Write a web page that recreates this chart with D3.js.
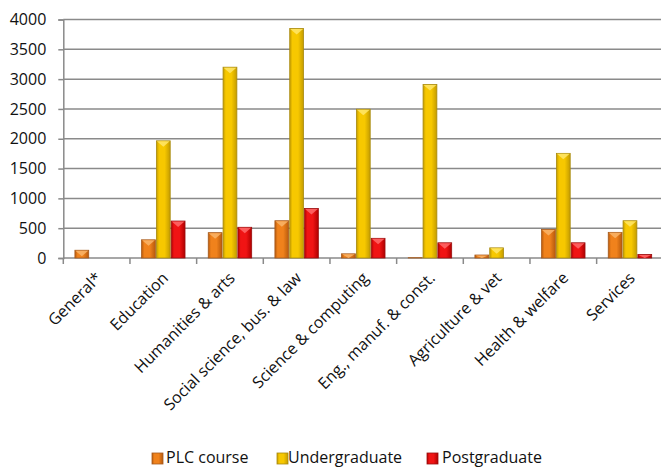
<!DOCTYPE html>
<html>
<head>
<meta charset="utf-8">
<script src="https://cdn.jsdelivr.net/npm/d3@7"></script>
<style>
  html, body { margin: 0; padding: 0; background: #fff; }
  svg { display: block; font-family: "Open Sans", Lato, sans-serif; }
</style>
</head>
<body>
<svg id="chart" width="661" height="468"></svg>
<script>
// Fields of study
const categories = [
  "General*", "Education", "Humanities & arts", "Social science, bus. & law",
  "Science & computing", "Eng., manuf. & const.", "Agriculture & vet",
  "Health & welfare", "Services"
];
// Number of students per field and course level
const plcCourse     = [130, 305, 425, 625, 70, 5, 50, 480, 430];
const undergraduate = [0, 1965, 3200, 3850, 2495, 2910, 170, 1755, 625];
const postgraduate  = [0, 620, 515, 830, 330, 255, 0, 255, 60];
const seriesNames = ["PLC course", "Undergraduate", "Postgraduate"];
const yTicks = [0, 500, 1000, 1500, 2000, 2500, 3000, 3500, 4000];

const seriesValues = [plcCourse, undergraduate, postgraduate];
const palette = [
  { base: "#F0821C", edge: "#B85A0C", light: "#F9B56A", stroke: "#A65A1E" },
  { base: "#F7C800", edge: "#C49C00", light: "#FFE66A", stroke: "#A88A10" },
  { base: "#F01414", edge: "#B00000", light: "#FF6A6A", stroke: "#9A1010" }
];

const svg = d3.select("#chart");
const plot = { left: 63.3, right: 663.3, top: 19.5, bottom: 258 };

const x0 = d3.scaleBand().domain(categories)
  .range([plot.left, plot.right]).paddingInner(1 / 3).paddingOuter(1 / 6);
const x1 = d3.scaleBand().domain(d3.range(seriesNames.length))
  .range([0, x0.bandwidth()]);
const y = d3.scaleLinear().domain([0, 4000]).range([plot.bottom, plot.top]);

// Gradients for the bevelled bars
const defs = svg.append("defs");
palette.forEach((c, i) => {
  const g = defs.append("linearGradient").attr("id", "grad" + i)
    .attr("x1", "0").attr("x2", "1").attr("y1", "0").attr("y2", "0");
  g.append("stop").attr("offset", "0").attr("stop-color", c.edge);
  g.append("stop").attr("offset", "0.2").attr("stop-color", c.base);
  g.append("stop").attr("offset", "0.6").attr("stop-color", c.base);
  g.append("stop").attr("offset", "1").attr("stop-color", c.edge);
});

// Horizontal gridlines
svg.append("g").selectAll("line").data(yTicks.slice(1)).join("line")
  .attr("x1", plot.left).attr("x2", 661)
  .attr("y1", d => y(d)).attr("y2", d => y(d))
  .attr("stroke", "#8a8a8a").attr("stroke-width", 1.5);

// Y axis
const yAxis = svg.append("g").attr("transform", `translate(${plot.left},0)`)
  .call(d3.axisLeft(y).tickValues(yTicks).tickFormat(d3.format("d"))
    .tickSize(5).tickPadding(12));
yAxis.select(".domain").attr("stroke", "#8a8a8a").attr("stroke-width", 1.5);
yAxis.selectAll(".tick line").attr("stroke", "#8a8a8a").attr("stroke-width", 1.5);
yAxis.selectAll(".tick text").attr("font-size", 16).attr("fill", "#111")
  .attr("font-family", "'Open Sans', sans-serif");

// X axis line and category boundary ticks
const half = (x0.step() - x0.bandwidth()) / 2;
const bounds = categories.map(c => x0(c) - half);
svg.append("line").attr("x1", plot.left).attr("x2", 661)
  .attr("y1", y(0)).attr("y2", y(0))
  .attr("stroke", "#8a8a8a").attr("stroke-width", 1.5);
svg.append("g").selectAll("line").data(bounds).join("line")
  .attr("x1", d => d).attr("x2", d => d)
  .attr("y1", y(0)).attr("y2", y(0) + 6)
  .attr("stroke", "#8a8a8a").attr("stroke-width", 1.5);

// Bars
const groups = svg.append("g").selectAll("g").data(categories).join("g")
  .attr("transform", c => `translate(${x0(c)},0)`);
groups.each(function (c, ci) {
  const g = d3.select(this);
  seriesValues.forEach((vals, si) => {
    const v = vals[ci];
    if (v <= 0) return;
    const bx = x1(si), bw = x1.bandwidth();
    const top = y(v), h = y(0) - top;
    g.append("rect")
      .attr("x", bx + 0.5).attr("y", top)
      .attr("width", bw - 1).attr("height", h)
      .attr("fill", `url(#grad${si})`)
      .attr("stroke", palette[si].stroke).attr("stroke-width", 0.8);
    // light chevron on the bar top
    const ch = Math.min(6, h);
    if (ch > 1.5) {
      g.append("path")
        .attr("d", `M${bx + 1},${top + 0.5} L${bx + bw - 1},${top + 0.5} L${bx + bw / 2},${top + ch} Z`)
        .attr("fill", palette[si].light).attr("opacity", 0.85);
    }
  });
});

// Category labels, rotated
svg.append("g").selectAll("text").data(categories).join("text")
  .attr("transform", c => `translate(${x0(c) + x0.bandwidth() / 2 + 6},${y(0) + 21}) rotate(-45)`)
  .attr("text-anchor", "end")
  .attr("font-size", 16).attr("fill", "#111")
  .text(c => c);

// Legend
const legendItems = [
  { x: 152, tx: 166 },
  { x: 277, tx: 288 },
  { x: 427, tx: 442 }
];
const legend = svg.append("g");
seriesNames.forEach((name, i) => {
  legend.append("rect").attr("x", legendItems[i].x).attr("y", 453)
    .attr("width", 11).attr("height", 11)
    .attr("fill", `url(#grad${i})`).attr("stroke", palette[i].stroke).attr("stroke-width", 0.8);
  legend.append("text").attr("x", legendItems[i].tx).attr("y", 463)
    .attr("font-size", 16).attr("fill", "#111").text(name);
});
</script>
</body>
</html>
